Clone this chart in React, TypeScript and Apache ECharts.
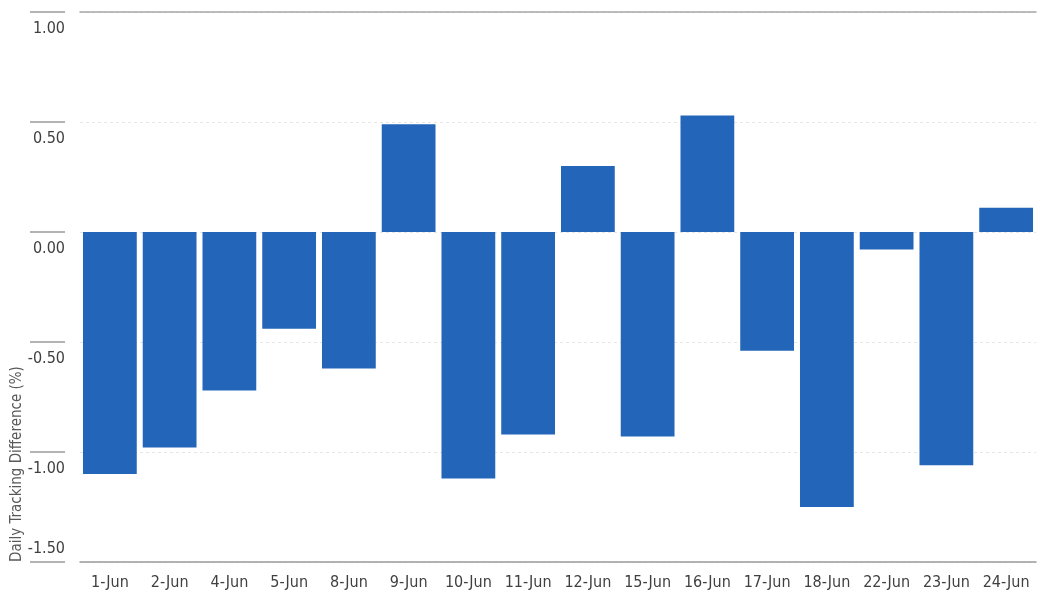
import React, { useEffect, useRef } from "react";
import * as echarts from "echarts";

const categories = ["1-Jun", "2-Jun", "4-Jun", "5-Jun", "8-Jun", "9-Jun", "10-Jun", "11-Jun", "12-Jun", "15-Jun", "16-Jun", "17-Jun", "18-Jun", "22-Jun", "23-Jun", "24-Jun"];
const values = [-1.1, -0.98, -0.72, -0.44, -0.62, 0.49, -1.12, -0.92, 0.3, -0.93, 0.53, -0.54, -1.25, -0.08, -1.06, 0.11];
const yMin = -1.5;
const yMax = 1.0;
const yStep = 0.5;
const yTitle = "Daily Tracking Difference (%)";

const FONT = "'Liberation Sans Narrow', 'DejaVu Sans Condensed', 'Arial Narrow', sans-serif";

export default function App() {
  const ref = useRef<HTMLDivElement>(null);
  useEffect(() => {
    if (!ref.current) return;
    const chart = echarts.init(ref.current, null, { renderer: "svg" });
    chart.setOption({
      animation: false,
      grid: { left: 80, right: 19, top: 12, bottom: 46, containLabel: false },
      xAxis: [
        {
          type: "category",
          data: categories,
          position: "bottom",
          axisLine: { show: true, onZero: false, lineStyle: { color: "#9a9a9a", width: 1.5 } },
          axisTick: { show: false },
          axisLabel: { color: "#404040", fontSize: 16, fontFamily: FONT, margin: 11, interval: 0 },
          splitLine: { show: false },
        },
        {
          type: "category",
          data: categories,
          position: "top",
          axisLine: { show: true, onZero: false, lineStyle: { color: "#a6a6a6", width: 1.5 } },
          axisTick: { show: false },
          axisLabel: { show: false },
        },
      ],
      yAxis: [
        {
          type: "value",
          min: yMin,
          max: yMax,
          interval: yStep,
          axisLine: { show: false },
          axisTick: { show: false },
          splitLine: { show: true, lineStyle: { color: "#e6e6e6", type: [3, 3], width: 1 } },
          axisLabel: {
            margin: 15,
            formatter: (v: number) => {
              const s = v.toFixed(2);
              return v <= yMin + 1e-9 ? `{b|${s}}` : `{a|${s}}`;
            },
            rich: {
              a: { color: "#404040", fontSize: 16, fontFamily: FONT, padding: [30, 0, 0, 0] },
              b: { color: "#404040", fontSize: 16, fontFamily: FONT, padding: [0, 0, 30, 0] },
            },
          },
        },
        {
          type: "value",
          min: yMin,
          max: yMax,
          interval: yStep,
          position: "left",
          offset: 15,
          axisLine: { show: false },
          axisTick: { show: true, length: 35, lineStyle: { color: "#9a9a9a", width: 1.5 } },
          axisLabel: { show: false },
          splitLine: { show: false },
        },
      ],
      graphic: [
        {
          type: "text",
          x: 16,
          y: 562,
          rotation: Math.PI / 2,
          style: {
            text: yTitle,
            fill: "#595959",
            fontSize: 15,
            fontFamily: FONT,
            textAlign: "left",
            textVerticalAlign: "middle",
          },
        },
      ],
      series: [
        {
          type: "bar",
          data: values,
          xAxisIndex: 0,
          yAxisIndex: 0,
          barCategoryGap: "10%",
          itemStyle: { color: "#2366b9" },
        },
      ],
    });
    return () => chart.dispose();
  }, []);
  return <div ref={ref} style={{ position: "fixed", left: 0, top: 0, width: 1055, height: 608 }} />;
}
